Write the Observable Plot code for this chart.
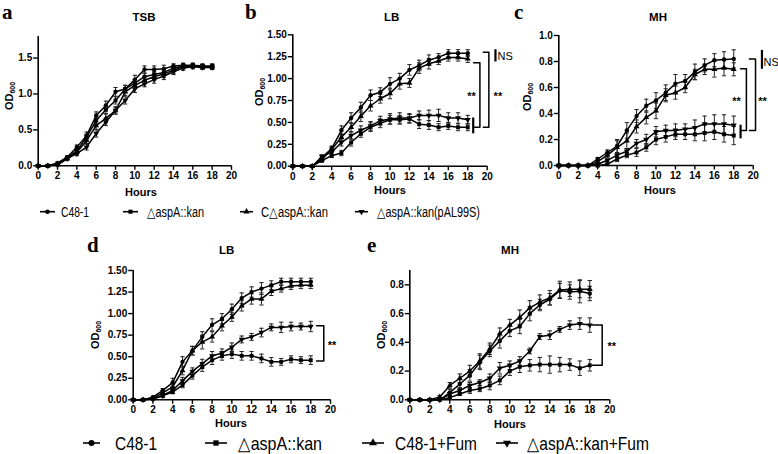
<!DOCTYPE html>
<html>
<head>
<meta charset="utf-8">
<script src="https://cdn.jsdelivr.net/npm/d3@7"></script>
<script src="https://cdn.jsdelivr.net/npm/@observablehq/plot@0.6"></script>
<style>
html,body{margin:0;padding:0;background:#fff;}
#fig{position:relative;width:778px;height:454px;overflow:hidden;background:#fff;}
#fig svg{position:absolute;}
</style>
</head>
<body>
<div id="fig"></div>
<script>
// ---------- data ----------
const hours = [0,1,2,3,4,5,6,7,8,9,10,11,12,13,14,15,16,17,18];
const xTicks = [0,2,4,6,8,10,12,14,16,18,20];
const topSeries = ["C48-1","\u25B3aspA::kan","C\u25B3aspA::kan","\u25B3aspA::kan(pAL99S)"];
const bottomSeries = ["C48-1","\u25B3aspA::kan","C48-1+Fum","\u25B3aspA::kan+Fum"];
const panelTitles = ["TSB","LB","MH","LB","MH"];
const panelLetters = ["a","b","c","d","e"];
const xLabel = "Hours";

// a: TSB
const aTicks = [0,0.5,1.0,1.5];
const aC481 = [0,0,0.04,0.12,0.26,0.42,0.70,0.84,1.03,1.07,1.20,1.34,1.34,1.35,1.39,1.40,1.40,1.39,1.39];
const aKan  = [0,0,0.02,0.11,0.21,0.40,0.63,0.78,0.91,1.07,1.15,1.24,1.27,1.30,1.36,1.39,1.39,1.38,1.38];
const aComp = [0,0,0.02,0.10,0.19,0.35,0.56,0.66,0.77,1.03,1.12,1.19,1.24,1.28,1.33,1.38,1.39,1.38,1.38];
const aPal  = [0,0,0.01,0.10,0.17,0.26,0.45,0.61,0.77,0.91,1.07,1.14,1.20,1.25,1.31,1.36,1.38,1.37,1.37];
const aC481E = [0,0,0.01,0.02,0.03,0.05,0.05,0.06,0.06,0.05,0.06,0.05,0.05,0.05,0.03,0.03,0.03,0.03,0.03];
const aKanE  = [0,0,0.01,0.02,0.03,0.04,0.05,0.05,0.05,0.05,0.05,0.05,0.04,0.04,0.03,0.03,0.03,0.03,0.03];
const aCompE = [0,0,0.01,0.02,0.03,0.04,0.05,0.06,0.05,0.05,0.05,0.05,0.05,0.05,0.04,0.03,0.03,0.03,0.03];
const aPalE  = [0,0,0.01,0.02,0.03,0.04,0.05,0.05,0.05,0.05,0.05,0.04,0.05,0.05,0.04,0.03,0.03,0.03,0.03];

// b: LB
const bTicks = [0,0.25,0.5,0.75,1.0,1.25,1.5];
const bC481 = [0,0,0,0.10,0.20,0.41,0.55,0.67,0.81,0.845,0.94,1.00,1.10,1.15,1.21,1.245,1.29,1.29,1.29];
const bKan  = [0,0,0,0.065,0.12,0.15,0.27,0.37,0.445,0.49,0.53,0.53,0.54,0.48,0.47,0.445,0.46,0.445,0.445];
const bComp = [0,0,0,0.08,0.19,0.33,0.445,0.57,0.69,0.77,0.83,0.94,0.95,1.12,1.17,1.20,1.24,1.24,1.225];
const bPal  = [0,0,0,0.11,0.16,0.27,0.35,0.41,0.46,0.52,0.54,0.55,0.55,0.58,0.58,0.58,0.55,0.55,0.53];
const bC481E = [0,0,0,0.02,0.03,0.05,0.06,0.06,0.06,0.05,0.07,0.06,0.06,0.06,0.06,0.04,0.04,0.04,0.04];
const bKanE  = [0,0,0,0.02,0.02,0.03,0.04,0.04,0.05,0.05,0.05,0.05,0.05,0.05,0.05,0.04,0.04,0.04,0.04];
const bCompE = [0,0,0,0.02,0.03,0.04,0.05,0.06,0.06,0.05,0.06,0.06,0.05,0.06,0.06,0.04,0.04,0.04,0.04];
const bPalE  = [0,0,0,0.02,0.03,0.04,0.04,0.05,0.05,0.05,0.06,0.06,0.05,0.05,0.06,0.07,0.06,0.06,0.05];
const bBrackets = [[18.6,19.25,1.18,0.445],[19.6,20.17,1.30,0.445]];
const bBars = [[18.56,0.37,0.55],[20.85,1.19,1.33]];
const bStars = [[18.38,0.82,"**"],[21.1,0.82,"**"]];
const bNS = [[21.06,1.25,"NS"]];

// c: MH
const cTicks = [0,0.2,0.4,0.6,0.8,1.0];
const cC481 = [0,0,0,0,0.05,0.10,0.15,0.27,0.38,0.46,0.50,0.56,0.63,0.65,0.72,0.77,0.81,0.815,0.82];
const cKan  = [0,0,0,0,0,0.01,0.05,0.08,0.10,0.14,0.20,0.22,0.24,0.24,0.24,0.25,0.26,0.24,0.23];
const cComp = [0,0,0,0,0.03,0.08,0.14,0.19,0.30,0.37,0.42,0.54,0.56,0.60,0.70,0.74,0.74,0.75,0.74];
const cPal  = [0,0,0,0,0.01,0.04,0.08,0.11,0.17,0.20,0.26,0.27,0.27,0.28,0.29,0.32,0.32,0.32,0.31];
const cC481E = [0,0,0,0,0.01,0.02,0.05,0.06,0.05,0.05,0.06,0.06,0.07,0.05,0.06,0.05,0.05,0.06,0.07];
const cKanE  = [0,0,0,0,0.01,0.01,0.02,0.02,0.03,0.03,0.04,0.04,0.04,0.04,0.05,0.06,0.06,0.06,0.07];
const cCompE = [0,0,0,0,0.01,0.02,0.05,0.06,0.05,0.05,0.06,0.05,0.05,0.04,0.04,0.04,0.06,0.06,0.05];
const cPalE  = [0,0,0,0,0.01,0.01,0.02,0.02,0.03,0.04,0.04,0.04,0.05,0.04,0.06,0.06,0.07,0.07,0.07];
const cBrackets = [[18.7,19.3,0.744,0.27],[19.6,20.24,0.82,0.27]];
const cBars = [[18.7,0.205,0.31],[20.9,0.74,0.885]];
const cStars = [[18.28,0.51,"**"],[20.96,0.51,"**"]];
const cNS = [[21.06,0.795,"NS"]];

// d: LB (+Fum)
const dTicks = [0,0.25,0.5,0.75,1.0,1.25,1.5];
const dC481  = [0,0,0.03,0.11,0.20,0.44,0.57,0.73,0.87,0.94,1.05,1.18,1.25,1.29,1.33,1.37,1.37,1.37,1.37];
const dKan   = [0,0,0.01,0.05,0.09,0.17,0.28,0.38,0.46,0.51,0.53,0.51,0.51,0.48,0.44,0.44,0.47,0.46,0.46];
const dC481F = [0,0,0.02,0.08,0.15,0.34,0.57,0.67,0.73,0.86,0.96,1.09,1.17,1.17,1.26,1.29,1.32,1.33,1.33];
const dKanF  = [0,0,0.01,0.05,0.11,0.22,0.33,0.42,0.51,0.54,0.61,0.70,0.73,0.78,0.84,0.84,0.85,0.85,0.85];
const dC481E  = [0,0,0.01,0.02,0.05,0.06,0.05,0.06,0.07,0.06,0.06,0.06,0.06,0.07,0.05,0.04,0.04,0.04,0.04];
const dKanE   = [0,0,0.01,0.02,0.02,0.03,0.04,0.05,0.05,0.05,0.05,0.05,0.05,0.05,0.05,0.04,0.04,0.04,0.05];
const dC481FE = [0,0,0.01,0.02,0.04,0.05,0.05,0.08,0.06,0.06,0.05,0.06,0.06,0.07,0.05,0.04,0.04,0.04,0.04];
const dKanFE  = [0,0,0.01,0.02,0.03,0.04,0.04,0.05,0.05,0.05,0.05,0.04,0.04,0.05,0.04,0.06,0.05,0.04,0.06];
const dBrackets = [[18.58,19.32,0.86,0.45]];
const dStars = [[20.15,0.65,"**"]];

// e: MH (+Fum)
const eTicks = [0,0.2,0.4,0.6,0.8];
const eC481  = [0,0,0,0,0.05,0.11,0.17,0.26,0.34,0.41,0.48,0.51,0.60,0.66,0.70,0.76,0.75,0.755,0.74];
const eKan   = [0,0,0,0,0.015,0.04,0.065,0.077,0.10,0.135,0.20,0.23,0.24,0.245,0.245,0.245,0.245,0.22,0.24];
const eC481F = [0,0,0,0.02,0.10,0.15,0.20,0.27,0.355,0.46,0.52,0.575,0.64,0.68,0.71,0.765,0.77,0.77,0.77];
const eKanF  = [0,0,0,0,0.04,0.065,0.10,0.12,0.15,0.22,0.24,0.27,0.34,0.44,0.45,0.49,0.52,0.53,0.52];
const eC481E  = [0,0,0,0,0.02,0.03,0.04,0.05,0.04,0.05,0.04,0.05,0.05,0.04,0.04,0.05,0.05,0.08,0.05];
const eKanE   = [0,0,0,0,0.01,0.01,0.02,0.02,0.03,0.03,0.03,0.04,0.04,0.05,0.06,0.05,0.04,0.05,0.04];
const eC481FE = [0,0,0,0.01,0.02,0.03,0.04,0.05,0.04,0.04,0.04,0.05,0.05,0.05,0.05,0.06,0.05,0.06,0.06];
const eKanFE  = [0,0,0,0,0.01,0.02,0.02,0.02,0.03,0.04,0.03,0.03,0.02,0.02,0.03,0.02,0.03,0.04,0.05];
const eBrackets = [[18.24,19.24,0.52,0.24]];
const eStars = [[20.2,0.385,"**"]];

// ---------- drawing ----------
const fig = document.getElementById("fig");
const FONT = "'Liberation Sans', Arial, Helvetica, sans-serif";
const triangleDown = {
  draw(context, size) {
    const s3 = Math.sqrt(3);
    const y = -Math.sqrt(size / (s3 * 3));
    context.moveTo(0, -y * 2);
    context.lineTo(s3 * y, y);
    context.lineTo(-s3 * y, y);
    context.closePath();
  }
};
const symbols = [d3.symbolCircle, d3.symbolSquare, d3.symbolTriangle, triangleDown];

function panel(cfg) {
  const rows = [];
  cfg.names.forEach((n, i) => hours.forEach((h, j) =>
    rows.push({s: n, i, h, y: cfg.values[i][j], e: cfg.errors[i][j]})));
  const eb = rows.filter(d => d.e > 0);
  const br = [];
  (cfg.brackets || []).forEach((b, k) => {
    br.push({k, x: b[0], y: b[2]}, {k, x: b[1], y: b[2]}, {k, x: b[1], y: b[3]}, {k, x: b[0], y: b[3]});
  });
  const p = Plot.plot({
    width: cfg.width, height: cfg.height,
    marginLeft: cfg.ml, marginRight: cfg.mr, marginTop: cfg.mt, marginBottom: cfg.mb,
    x: {domain: [0, 20]},
    y: {domain: [0, cfg.yMax]},
    style: {background: "transparent", overflow: "visible", fontFamily: FONT, fontSize: "10px", fontWeight: "bold", color: "#000"},
    marks: [
      Plot.axisX({ticks: xTicks, tickSize: 4.5, tickPadding: 2, tickFormat: d => String(d), label: null, strokeWidth: 1.4}),
      Plot.axisY({ticks: cfg.ticks, tickSize: 4.5, tickPadding: 1.5, tickFormat: d3.format(cfg.fmt), label: null, strokeWidth: 1.4}),
      Plot.ruleY([0], {strokeWidth: 1.6}),
      Plot.ruleX([0], {strokeWidth: 1.6}),
      Plot.ruleX(eb, {x: "h", y1: d => d.y - d.e, y2: d => d.y + d.e, strokeWidth: 1, stroke: "#222"}),
      Plot.link(eb, {x1: d => d.h - 0.22, x2: d => d.h + 0.22, y1: d => d.y + d.e, y2: d => d.y + d.e, strokeWidth: 1, stroke: "#222"}),
      Plot.link(eb, {x1: d => d.h - 0.22, x2: d => d.h + 0.22, y1: d => d.y - d.e, y2: d => d.y - d.e, strokeWidth: 1, stroke: "#222"}),
      Plot.line(rows, {x: "h", y: "y", z: "s", stroke: "#000", strokeWidth: 1.5}),
      ...symbols.map((sym, i) => Plot.dot(rows.filter(d => d.i === i), {x: "h", y: "y", symbol: sym, r: 2.2, fill: "#000", stroke: "none"})),
      Plot.line(br, {x: "x", y: "y", z: "k", stroke: "#000", strokeWidth: 1.5}),
      Plot.ruleX(cfg.bars || [], {x: d => d[0], y1: d => d[1], y2: d => d[2], strokeWidth: 2.2}),
      Plot.text(cfg.stars || [], {x: d => d[0], y: d => d[1], text: d => d[2], fontSize: 11, fontWeight: "bold", dy: 2}),
      Plot.text(cfg.ns || [], {x: d => d[0], y: d => d[1], text: d => d[2], fontSize: 11, fontWeight: "normal", textAnchor: "start"})
    ]
  });
  p.style.left = cfg.left + "px";
  p.style.top = cfg.top + "px";
  fig.appendChild(p);
}

panel({left: 0, top: 0, width: 250, height: 200, ml: 37.7, mr: 19, mt: 36, mb: 34.7, yMax: 1.8, ticks: aTicks, fmt: ".1f",
  names: topSeries, values: [aC481, aKan, aComp, aPal], errors: [aC481E, aKanE, aCompE, aPalE]});
panel({left: 250, top: 0, width: 270, height: 200, ml: 42.3, mr: 33.3, mt: 34.3, mb: 34.3, yMax: 1.5, ticks: bTicks, fmt: ".2f",
  names: topSeries, values: [bC481, bKan, bComp, bPal], errors: [bC481E, bKanE, bCompE, bPalE],
  brackets: bBrackets, bars: bBars, stars: bStars, ns: bNS});
panel({left: 510, top: 0, width: 268, height: 200, ml: 48.3, mr: 25.3, mt: 35, mb: 35, yMax: 1.0, ticks: cTicks, fmt: ".1f",
  names: topSeries, values: [cC481, cKan, cComp, cPal], errors: [cC481E, cKanE, cCompE, cPalE],
  brackets: cBrackets, bars: cBars, stars: cStars, ns: cNS});
panel({left: 80, top: 240, width: 280, height: 200, ml: 52.7, mr: 30, mt: 30, mb: 40.7, yMax: 1.5, ticks: dTicks, fmt: ".2f",
  names: bottomSeries, values: [dC481, dKan, dC481F, dKanF], errors: [dC481E, dKanE, dC481FE, dKanFE],
  brackets: dBrackets, stars: dStars});
panel({left: 360, top: 240, width: 280, height: 200, ml: 49.3, mr: 30.7, mt: 30, mb: 40.7, yMax: 0.9, ticks: eTicks, fmt: ".1f",
  names: bottomSeries, values: [eC481, eKan, eC481F, eKanF], errors: [eC481E, eKanE, eC481FE, eKanFE],
  brackets: eBrackets, stars: eStars});

// ---------- overlay text: letters, titles, axis labels, legends ----------
const ov = d3.select(fig).append("svg").attr("width", 778).attr("height", 454)
  .style("left", "0px").style("top", "0px").style("pointer-events", "none");

const letterPos = [[2, 19], [245, 19], [514, 18.5], [87, 251.7], [367, 251.7]];
panelLetters.forEach((t, i) => ov.append("text").attr("x", letterPos[i][0]).attr("y", letterPos[i][1])
  .attr("font-family", "'Liberation Serif', 'Times New Roman', serif").attr("font-weight", "bold").attr("font-size", 21).text(t));

const titlePos = [[144, 17], [391.7, 17], [658, 17], [226.7, 250], [510, 250]];
panelTitles.forEach((t, i) => ov.append("text").attr("x", titlePos[i][0]).attr("y", titlePos[i][1] + 4)
  .attr("text-anchor", "middle").attr("font-family", FONT).attr("font-weight", "bold").attr("font-size", 11.5).text(t));

const hoursPos = [[141, 192], [390, 190], [660, 190], [231, 423], [510, 424]];
hoursPos.forEach(([x, y]) => ov.append("text").attr("x", x).attr("y", y + 4)
  .attr("text-anchor", "middle").attr("font-family", FONT).attr("font-weight", "bold").attr("font-size", 11).text(xLabel));

const odPos = [[9, 96], [259, 92], [527, 97], [95, 335], [381, 335]];
odPos.forEach(([x, y]) => {
  const t = ov.append("text").attr("transform", `translate(${x},${y}) rotate(-90)`).attr("y", 4)
    .attr("text-anchor", "middle").attr("font-family", FONT).attr("font-weight", "bold").attr("font-size", 11);
  t.append("tspan").text("OD");
  t.append("tspan").attr("font-size", 7).attr("dy", 2).text("600");
});

const legendRows = [
  {names: topSeries, y: 211.7, size: 14, r: 2.3, items: [[40, 55, 61, 28], [123, 138, 147, 57], [240, 253, 261, 67], [355, 368, 377, 103]]},
  {names: bottomSeries, y: 443, size: 19, r: 3, items: [[83, 100, 115, 42], [205, 227, 238, 84], [362, 384, 395, 82], [496, 518, 527, 122]]}
];
legendRows.forEach(row => {
  row.items.forEach(([x0, x1, tx, w], i) => {
    ov.append("line").attr("x1", x0).attr("x2", x1).attr("y1", row.y).attr("y2", row.y).attr("stroke", "#000").attr("stroke-width", 1.6);
    ov.append("path").attr("transform", `translate(${(x0 + x1) / 2},${row.y})`)
      .attr("d", d3.symbol(symbols[i], Math.PI * row.r * row.r)()).attr("fill", "#000");
    ov.append("text").attr("x", tx).attr("y", row.y + row.size * 0.36)
      .attr("font-family", FONT).attr("font-size", row.size)
      .attr("textLength", w).attr("lengthAdjust", "spacingAndGlyphs").text(row.names[i]);
  });
});
</script>
</body>
</html>
